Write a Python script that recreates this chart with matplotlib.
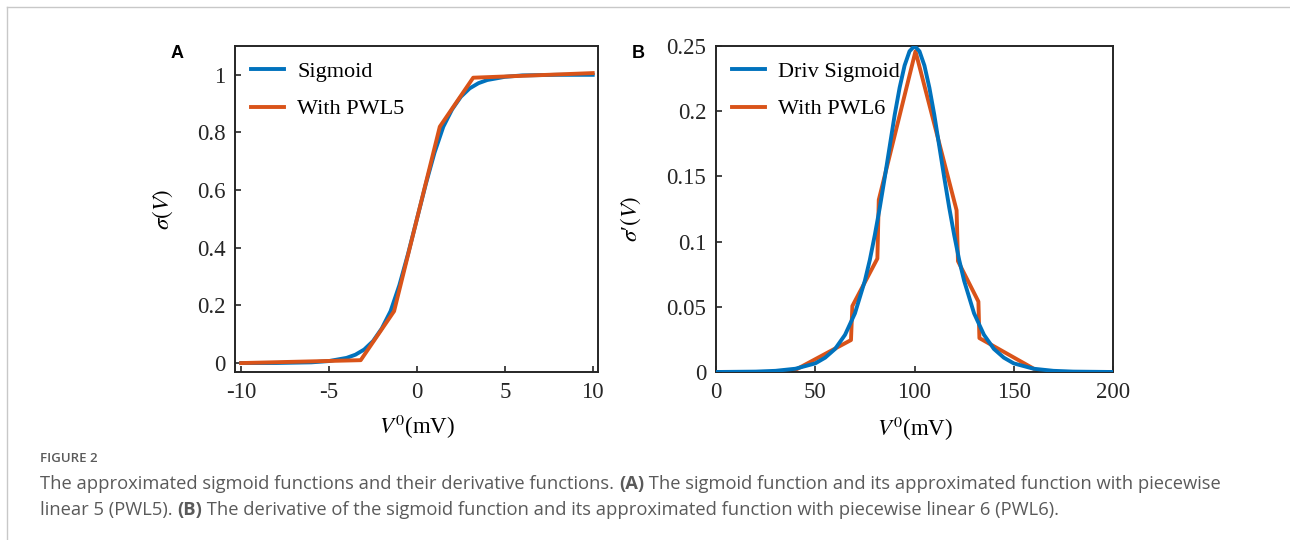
import matplotlib
matplotlib.use("Agg")
from matplotlib import pyplot as plt
from matplotlib.lines import Line2D
from matplotlib.text import Annotation

plt.rcParams["font.family"] = ["Liberation Serif", "DejaVu Serif"]
plt.rcParams["mathtext.fontset"] = "stix"
plt.rcParams["axes.unicode_minus"] = False

BLUE = "#0072BD"
ORANGE = "#D95319"

### panel A: sigmoid and its 5-piece linear fit
sig_x = [-10, -8, -6, -5, -4, -3.5, -3, -2.5, -2, -1.5, -1, -0.5, 0,
         0.5, 1, 1.5, 2, 2.5, 3, 3.5, 4, 5, 6, 8, 10]
sig_y = [0.0, 0.0003, 0.0025, 0.007, 0.018, 0.029, 0.047, 0.076, 0.12, 0.18,
         0.27, 0.38, 0.5, 0.62, 0.73, 0.82, 0.88, 0.924, 0.953, 0.971, 0.982,
         0.993, 0.998, 1.0, 1.0]
pwl5_x = [-10, -3.2, -1.3, 1.3, 3.2, 10]
pwl5_y = [0.0, 0.01, 0.18, 0.82, 0.99, 1.006]

### panel B: sigmoid derivative and its 6-piece linear fit
dsig_x = [0, 20, 30, 40, 50, 55, 60, 65, 70, 75, 77.5, 80, 82.5, 85, 87.5, 90,
          92.5, 95, 97.5, 100, 102.5, 105, 107.5, 110, 112.5, 115, 117.5, 120,
          122.5, 125, 130, 135, 140, 145, 150, 160, 170, 180, 200]
dsig_y = [0.0, 0.0003, 0.0009, 0.0025, 0.0066, 0.011, 0.0177, 0.0285, 0.045,
          0.070, 0.086, 0.105, 0.126, 0.149, 0.173, 0.197, 0.218, 0.235, 0.246,
          0.25, 0.246, 0.235, 0.218, 0.197, 0.173, 0.149, 0.126, 0.105, 0.086,
          0.070, 0.045, 0.0285, 0.0177, 0.011, 0.0066, 0.0025, 0.0009, 0.0003,
          0.0]
pwl6_x = [0, 38, 68, 68.7, 81.3, 82, 100.5, 121.2, 121.9, 132.2, 132.7, 163, 200]
pwl6_y = [0.0, 0.0, 0.0245, 0.0506, 0.087, 0.132, 0.246, 0.124, 0.085, 0.054,
          0.026, 0.0, 0.0]

W, H = 1290, 540
fig = plt.figure(figsize=(W / 100, H / 100), dpi=100)


def make_axes(left, right, top, bottom):
    return fig.add_axes([left / W, 1 - bottom / H, (right - left) / W, (bottom - top) / H])


def style(ax):
    for s in ax.spines.values():
        s.set_color("#262626")
        s.set_linewidth(1.4)
    ax.tick_params(direction="in", length=4, width=1.2, labelsize=16.5, pad=7,
                   colors="#262626", labelcolor="#262626")


legend_kw = dict(loc="upper left", frameon=False, fontsize=16, handlelength=1.5,
                 handletextpad=0.6, labelspacing=0.75, borderaxespad=0.3)

axA = make_axes(235, 598, 46, 372)
axA.plot(sig_x, sig_y, color=BLUE, lw=2.8, label="Sigmoid", zorder=2)
axA.plot(pwl5_x, pwl5_y, color=ORANGE, lw=2.8, label="With PWL5", zorder=3)
axA.set_xlim(-10.35, 10.3)
axA.set_ylim(-0.031, 1.1)
axA.set_xticks([-10, -5, 0, 5, 10])
axA.set_yticks([0, 0.2, 0.4, 0.6, 0.8, 1])
axA.set_yticklabels(["0", "0.2", "0.4", "0.6", "0.8", "1"])
axA.set_xlabel(r"$V^0$(mV)", fontsize=16.5)
axA.set_ylabel(r"$\sigma(V)$", fontsize=16.5)
axA.xaxis.set_label_coords(0.5, -0.126)
axA.yaxis.set_label_coords(-0.165, 0.5)
style(axA)
axA.legend(**legend_kw)

axB = make_axes(716, 1113, 46, 372)
axB.plot(pwl6_x, pwl6_y, color=ORANGE, lw=2.8, label="With PWL6", zorder=2)
axB.plot(dsig_x, dsig_y, color=BLUE, lw=2.8, label="Driv Sigmoid", zorder=3)
axB.set_xlim(0, 200)
axB.set_ylim(0, 0.25)
axB.set_xticks([0, 50, 100, 150, 200])
axB.set_yticks([0, 0.05, 0.1, 0.15, 0.2, 0.25])
axB.set_yticklabels(["0", "0.05", "0.1", "0.15", "0.2", "0.25"])
axB.set_xlabel(r"$V^0$(mV)", fontsize=16.5)
axB.set_ylabel("$\\sigma$\u2032$(V)$", fontsize=16.5)
axB.xaxis.set_label_coords(0.5, -0.132)
axB.yaxis.set_label_coords(-0.184, 0.47)
style(axB)
handles, labels = axB.get_legend_handles_labels()
axB.legend(handles[::-1], labels[::-1], **legend_kw)

### panel letters
fig.text(177 / W, 1 - 53 / H, "A", family="Liberation Sans", weight="bold",
         fontsize=13, ha="center", va="center")
fig.text(638 / W, 1 - 53 / H, "B", family="Liberation Sans", weight="bold",
         fontsize=13, ha="center", va="center")

### page frame lines
fig.add_artist(Line2D([7 / W, 1], [1 - 7 / H, 1 - 7 / H], transform=fig.transFigure,
                      color="#c8c8c8", lw=1.0))
fig.add_artist(Line2D([7 / W, 7 / W], [0, 1 - 7 / H], transform=fig.transFigure,
                      color="#c8c8c8", lw=1.0))

### caption
cap = dict(family="Open Sans", fontsize=13.2, color="#5a5a5a")
fig.text(40 / W, 1 - 458 / H, "FIGURE 2", family="Open Sans", weight="semibold",
         fontsize=9.5, color="#5a5a5a", va="center")


def caption_line(y, parts):
    prev = None
    for txt, bold in parts:
        kw = dict(cap)
        if bold:
            kw["weight"] = "bold"
        if prev is None:
            prev = fig.text(40 / W, 1 - y / H, txt, va="center", **kw)
        else:
            # glue the next piece to the right edge of the previous one
            prev = fig.add_artist(Annotation(txt, xy=(1, 0), xycoords=prev,
                                             va="bottom", ha="left",
                                             annotation_clip=False, **kw))


caption_line(484, [
    ("The approximated sigmoid functions and their derivative functions. ", False),
    ("(A)", True),
    (" The sigmoid function and its approximated function with piecewise", False),
])
caption_line(510, [
    ("linear 5 (PWL5). ", False),
    ("(B)", True),
    (" The derivative of the sigmoid function and its approximated function with piecewise linear 6 (PWL6).", False),
])

fig.savefig("out.png", dpi=100)
